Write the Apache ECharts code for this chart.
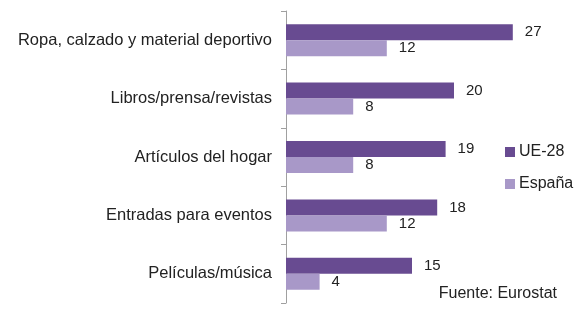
<!DOCTYPE html>
<html lang="es">
<head>
    <meta charset="UTF-8">
    <title>Compras por internet</title>
    <script src="https://cdn.jsdelivr.net/npm/echarts@6/dist/echarts.min.js"></script>
    <style>
        html, body { margin: 0; padding: 0; background: #fff; }
    </style>
</head>
<body>
<div id="main" style="width: 579px;height:313px;"></div>
<script type="text/javascript">
    var categorias = ['Ropa, calzado y material deportivo', 'Libros/prensa/revistas', 'Artículos del hogar', 'Entradas para eventos', 'Películas/música'];
    var ue28 = [27, 20, 19, 18, 15];
    var espana = [12, 8, 8, 12, 4];

    var myChart = echarts.init(document.getElementById('main'));
    var fuente = 'Liberation Sans, Arial, sans-serif';

    myChart.setOption({
        animation: false,
        textStyle: { fontFamily: fuente },
        grid: { left: 286, top: 11, width: 252, height: 292 },
        legend: {
            orient: 'vertical',
            left: 500,
            top: 139,
            icon: 'rect',
            itemWidth: 10,
            itemHeight: 10,
            itemGap: 16,
            textStyle: { fontSize: 16, color: '#222', fontFamily: fuente, padding: [0, 0, 0, -1] },
            data: ['UE-28', 'España']
        },
        xAxis: {
            type: 'value',
            min: 0,
            max: 30,
            show: false
        },
        yAxis: {
            type: 'category',
            inverse: true,
            data: categorias,
            axisLine: { lineStyle: { color: '#a0a0a0' } },
            axisTick: { show: true, length: 5, lineStyle: { color: '#a0a0a0' } },
            axisLabel: { fontSize: 16.5, color: '#222', margin: 14, fontFamily: fuente }
        },
        graphic: [{
            type: 'text',
            right: 22,
            top: 286,
            style: { text: 'Fuente: Eurostat', fontSize: 16, fill: '#222', fontFamily: fuente }
        }],
        series: [{
            name: 'UE-28',
            type: 'bar',
            data: ue28,
            barWidth: 16,
            barGap: '0%',
            itemStyle: { color: '#684b91' },
            label: { show: true, position: 'right', distance: 12, fontSize: 15, color: '#222' }
        }, {
            name: 'España',
            type: 'bar',
            data: espana,
            barWidth: 16,
            barGap: '0%',
            itemStyle: { color: '#a898c8' },
            label: { show: true, position: 'right', distance: 12, fontSize: 15, color: '#222' }
        }]
    });
</script>
</body>
</html>
